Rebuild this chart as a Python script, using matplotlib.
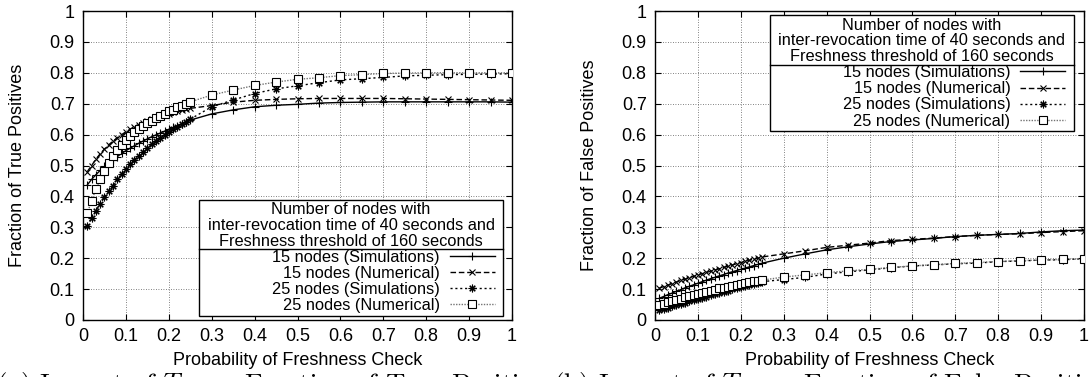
import matplotlib
matplotlib.use('Agg')
import matplotlib.pyplot as plt
from matplotlib.patches import Rectangle
from matplotlib.lines import Line2D

plt.rcParams['font.family'] = ['Liberation Sans', 'DejaVu Sans']
plt.rcParams['mathtext.fontset'] = 'cm'

# probability of freshness check (x values of every series)
p_check = [0.01, 0.02, 0.03, 0.04, 0.05, 0.06, 0.07, 0.08, 0.09, 0.10,
           0.11, 0.12, 0.13, 0.14, 0.15, 0.16, 0.17, 0.18, 0.19, 0.20,
           0.21, 0.22, 0.23, 0.24, 0.25,
           0.30, 0.35, 0.40, 0.45, 0.50, 0.55, 0.60, 0.65, 0.70, 0.75,
           0.80, 0.85, 0.90, 0.95, 1.00]

# (a) fraction of true positives
tp_15_sim = [0.437, 0.455, 0.470, 0.484, 0.497, 0.508, 0.519, 0.529, 0.539, 0.548,
             0.556, 0.564, 0.572, 0.579, 0.586, 0.593, 0.599, 0.605, 0.611, 0.617,
             0.623, 0.629, 0.635, 0.641, 0.647,
             0.667, 0.680, 0.690, 0.695, 0.698, 0.702, 0.704, 0.705, 0.706, 0.706,
             0.706, 0.706, 0.706, 0.706, 0.705]
tp_15_num = [0.480, 0.500, 0.520, 0.538, 0.553, 0.567, 0.579, 0.590, 0.600, 0.609,
             0.617, 0.625, 0.632, 0.638, 0.644, 0.649, 0.654, 0.659, 0.664, 0.668,
             0.672, 0.676, 0.679, 0.682, 0.685,
             0.694, 0.705, 0.711, 0.714, 0.716, 0.717, 0.717, 0.717, 0.717, 0.716,
             0.715, 0.714, 0.713, 0.712, 0.711]
tp_25_sim = [0.305, 0.331, 0.354, 0.376, 0.397, 0.416, 0.434, 0.455, 0.473, 0.490,
             0.505, 0.519, 0.532, 0.545, 0.557, 0.568, 0.579, 0.589, 0.599, 0.608,
             0.617, 0.626, 0.634, 0.642, 0.650,
             0.690, 0.712, 0.733, 0.748, 0.758, 0.768, 0.777, 0.781, 0.785, 0.790,
             0.792, 0.794, 0.795, 0.796, 0.797]
tp_25_num = [0.345, 0.386, 0.423, 0.455, 0.483, 0.507, 0.531, 0.550, 0.566, 0.583,
             0.595, 0.607, 0.618, 0.628, 0.637, 0.645, 0.653, 0.661, 0.668, 0.675,
             0.681, 0.688, 0.694, 0.700, 0.706,
             0.728, 0.744, 0.759, 0.770, 0.779, 0.784, 0.791, 0.794, 0.798, 0.799,
             0.800, 0.800, 0.800, 0.800, 0.800]

# (b) fraction of false positives
fp_15_sim = [0.070, 0.076, 0.082, 0.087, 0.093, 0.098, 0.104, 0.109, 0.114, 0.119,
             0.124, 0.129, 0.134, 0.138, 0.143, 0.147, 0.152, 0.156, 0.160, 0.164,
             0.168, 0.172, 0.176, 0.180, 0.184,
             0.200, 0.214, 0.227, 0.237, 0.246, 0.254, 0.259, 0.264, 0.270, 0.274,
             0.277, 0.280, 0.285, 0.289, 0.291]
fp_15_num = [0.103, 0.108, 0.113, 0.118, 0.123, 0.128, 0.132, 0.137, 0.141, 0.146,
             0.150, 0.154, 0.158, 0.162, 0.166, 0.170, 0.174, 0.178, 0.182, 0.186,
             0.190, 0.193, 0.197, 0.200, 0.204,
             0.214, 0.224, 0.235, 0.242, 0.249, 0.257, 0.261, 0.265, 0.270, 0.274,
             0.277, 0.279, 0.283, 0.286, 0.289]
fp_25_sim = [0.032, 0.036, 0.040, 0.044, 0.048, 0.052, 0.056, 0.060, 0.064, 0.068,
             0.072, 0.076, 0.080, 0.084, 0.088, 0.092, 0.095, 0.099, 0.103, 0.106,
             0.110, 0.113, 0.117, 0.120, 0.124,
             0.131, 0.138, 0.149, 0.156, 0.162, 0.169, 0.175, 0.178, 0.182, 0.184,
             0.189, 0.191, 0.194, 0.195, 0.198]
fp_25_num = [0.049, 0.053, 0.057, 0.061, 0.065, 0.069, 0.073, 0.077, 0.080, 0.084,
             0.088, 0.091, 0.095, 0.098, 0.102, 0.105, 0.108, 0.111, 0.114, 0.117,
             0.120, 0.123, 0.125, 0.127, 0.129,
             0.139, 0.146, 0.153, 0.159, 0.164, 0.170, 0.175, 0.179, 0.183, 0.186,
             0.189, 0.192, 0.194, 0.196, 0.198]

series_labels = ['15 nodes (Simulations)', '15 nodes (Numerical)',
                 '25 nodes (Simulations)', '25 nodes (Numerical)']
legend_title = ('Number of nodes with\n'
                'inter-revocation time of 40 seconds and\n'
                'Freshness threshold of 160 seconds')
tick_values = [0, 0.1, 0.2, 0.3, 0.4, 0.5, 0.6, 0.7, 0.8, 0.9, 1]
tick_labels = ['0', '0.1', '0.2', '0.3', '0.4', '0.5', '0.6', '0.7', '0.8', '0.9', '1']
xlabel = 'Probability of Freshness Check'
captions = [r'(a) Impact of $T_{th}$ on Fraction of True Positives',
            r'(b) Impact of $T_{th}$ on Fraction of False Positives']

# gnuplot-like line / point types
styles = [
    dict(color='black', ls='-', marker='+', ms=6, mew=0.8),
    dict(color='black', ls=(0, (4, 2)), marker='x', ms=4.5, mew=0.8),
    dict(color='black', ls=(0, (1.5, 2)), marker=(8, 2, 0), ms=5.5, mew=0.8),
    dict(color='0.45', ls=(0, (1, 1)), marker='s', ms=5.5, mew=0.8,
         mfc='white', mec='black'),
]

LEG_FS = 11.8
HPAD_PX = 6.0


def draw_panel(ax, series, ylabel, leg_loc, leg_anchor):
    handles = []
    for ys, st, lab in zip(series, styles, series_labels):
        h, = ax.plot(p_check, ys, lw=1.0, label=lab, zorder=3, **st)
        handles.append(h)

    ax.set_xlim(0, 1)
    ax.set_ylim(0, 1)
    ax.set_xticks(tick_values)
    ax.set_xticklabels(tick_labels)
    ax.set_yticks(tick_values)
    ax.set_yticklabels(tick_labels)
    ax.tick_params(direction='in', top=True, right=True, length=4, width=0.8,
                   labelsize=13, pad=6)
    ax.grid(True, linestyle=(0, (1, 2)), color='0.35', linewidth=0.6)
    ax.set_axisbelow(True)
    for sp in ax.spines.values():
        sp.set_linewidth(1.0)
    ax.set_xlabel(xlabel, fontsize=13, labelpad=5)
    ax.set_ylabel(ylabel, fontsize=13, labelpad=17)

    leg = ax.legend(handles, series_labels, title=legend_title,
                    loc=leg_loc, bbox_to_anchor=leg_anchor, borderaxespad=0,
                    frameon=False, markerfirst=False, alignment='right',
                    fontsize=LEG_FS, title_fontsize=LEG_FS, handlelength=2.75,
                    handletextpad=0.6, labelspacing=0.07, borderpad=0.15,
                    numpoints=1)
    leg.get_title().set_multialignment('center')
    leg.get_title().set_linespacing(1.05)
    leg.set_zorder(6)
    return leg


def box_legend(fig, ax, leg):
    # white key box with a rule under the title, drawn like gnuplot does
    renderer = fig.canvas.get_renderer()
    bb = leg.get_window_extent(renderer)
    inv = ax.transAxes.inverted()
    x0, y0 = inv.transform((bb.x0 - HPAD_PX, bb.y0))
    x1, y1 = inv.transform((bb.x1 + HPAD_PX, bb.y1))
    ax.add_patch(Rectangle((x0, y0), x1 - x0, y1 - y0, transform=ax.transAxes,
                           facecolor='white', edgecolor='black', lw=1.0,
                           zorder=5))
    tb = leg.get_title().get_window_extent(renderer)
    eb = leg.get_texts()[0].get_window_extent(renderer)
    ysep = inv.transform((0, (tb.y0 + eb.y1) / 2))[1]
    ax.add_line(Line2D([x0, x1], [ysep, ysep], transform=ax.transAxes,
                       color='black', lw=1.0, zorder=7))


fig = plt.figure(figsize=(10.92, 3.77), dpi=100)
ax_a = fig.add_axes([0.0760, 0.1512, 0.3929, 0.8196])
ax_b = fig.add_axes([0.5998, 0.1512, 0.3929, 0.8196])

hpad_frac = HPAD_PX / (0.3929 * 1092)
leg_a = draw_panel(ax_a, [tp_15_sim, tp_15_num, tp_25_sim, tp_25_num],
                   'Fraction of True Positives', 'lower right',
                   (0.979 - hpad_frac, 0.014))
leg_b = draw_panel(ax_b, [fp_15_sim, fp_15_num, fp_25_sim, fp_25_num],
                   'Fraction of False Positives', 'upper right',
                   (0.976 - hpad_frac, 0.986))

fig.canvas.draw()
box_legend(fig, ax_a, leg_a)
box_legend(fig, ax_b, leg_b)

# sub-figure captions, cut by the bottom edge as in the source page
fig.text(-0.004, -0.039, captions[0], fontsize=19.5, family='cmr10',
         va='baseline', ha='left')
fig.text(0.506, -0.039, captions[1], fontsize=19.5, family='cmr10',
         va='baseline', ha='left')

fig.savefig('out.png', dpi=100)
